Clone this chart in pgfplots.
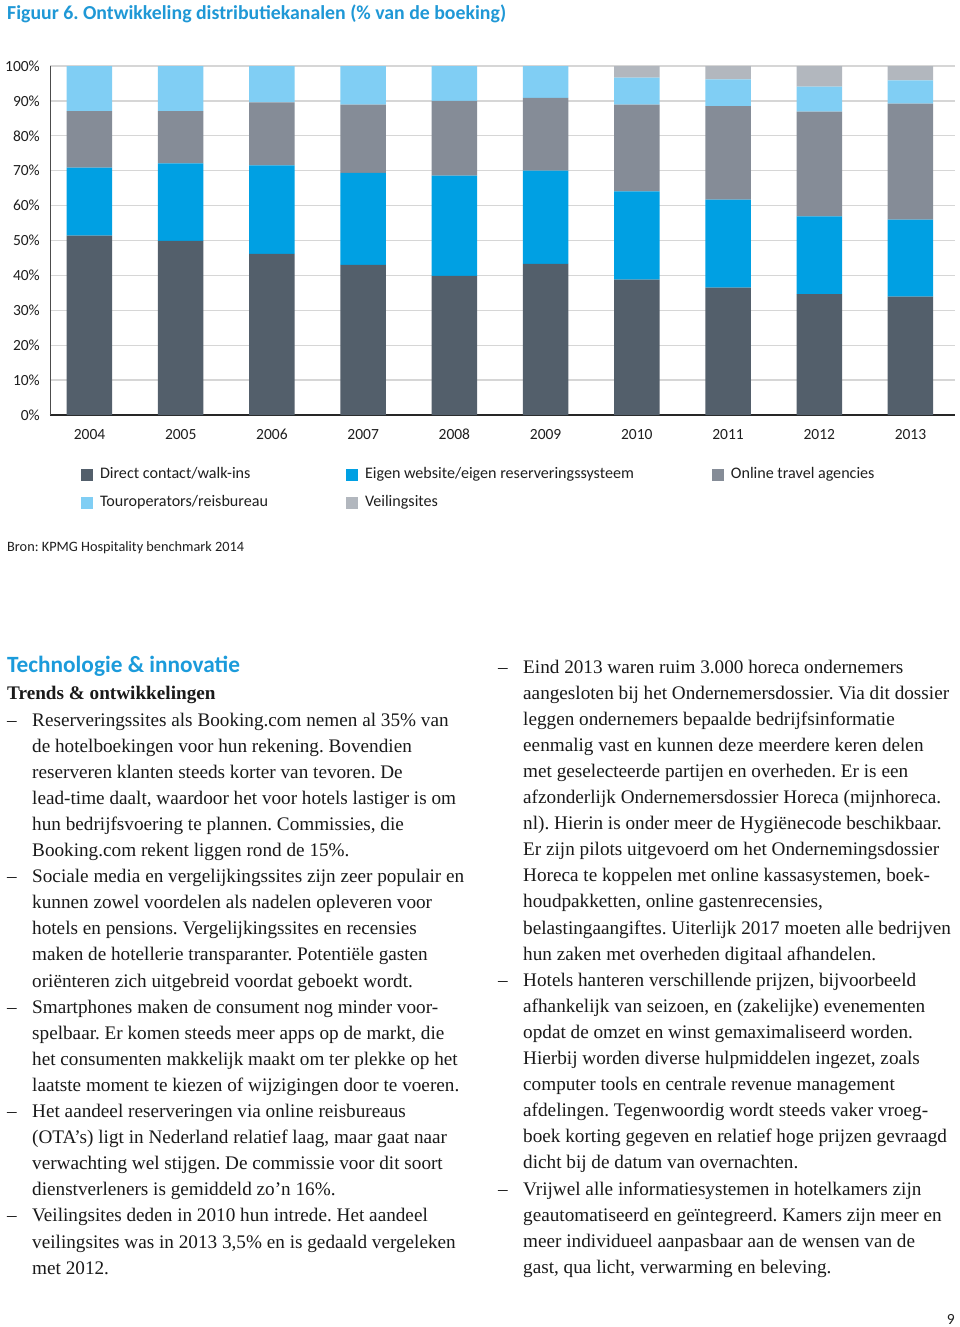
\documentclass[border=0pt]{standalone}
\usepackage{fontspec}
\usepackage{pgfplots}
\pgfplotsset{compat=1.18}
\setmainfont{Liberation Serif}
\newfontfamily\carlito{Carlito}
\newcommand\chartfont{\carlito\fontsize{15.5}{18}\selectfont}
\newcommand\legfont{\carlito\fontsize{16.1}{18}\selectfont}
\newcommand\bodyfont{\fontsize{19.2}{26}\selectfont}
\definecolor{cDirect}{HTML}{535F6B}
\definecolor{cEigen}{HTML}{00A0E3}
\definecolor{cOTA}{HTML}{858C97}
\definecolor{cTour}{HTML}{80CEF4}
\definecolor{cVeil}{HTML}{B2B7BE}
\definecolor{cTitle}{HTML}{1F98D6}
\definecolor{cHead}{HTML}{1B9BDB}
\definecolor{cText}{HTML}{1A1A1A}
\pgfplotsset{sq/.style={legend image code/.code={\fill[##1] (0pt,-6pt) rectangle (12pt,6pt); \path (19pt,0pt);}}}
\newcommand\TL[3]{\node[anchor=base west,inner sep=0pt] at (#1pt,-#2pt) {#3};}
\frenchspacing
\begin{document}
\frenchspacing
\begin{tikzpicture}
\path[use as bounding box, fill=white] (0pt,0pt) rectangle (960pt,-1327pt);
% title
\node[anchor=base west,inner sep=0pt,font=\carlito\bfseries\fontsize{19.8}{24}\selectfont,text=cTitle] at (7pt,-19.5pt) {Figuur 6. Ontwikkeling distributiekanalen (\% van de boeking)};
\begin{axis}[
  at={(50pt,-415pt)}, anchor=south west,
  scale only axis, width=905pt, height=349pt,
  ybar stacked, bar width=45.5pt,
  xmin=-0.433, xmax=9.488, ymin=0, ymax=100,
  xtick={0,1,2,3,4,5,6,7,8,9},
  xticklabels={2004,2005,2006,2007,2008,2009,2010,2011,2012,2013},
  ytick={0,10,20,30,40,50,60,70,80,90,100},
  yticklabels={0\%,10\%,20\%,30\%,40\%,50\%,60\%,70\%,80\%,90\%,100\%},
  axis x line=bottom, axis y line=left,
  x axis line style={draw=black!85, line width=1.6pt, -},
  y axis line style={draw=black!70, line width=0.8pt, -},
  major tick length=0pt,
  ymajorgrids, grid style={draw=black!16, line width=1.3pt},
  tick label style={font=\chartfont, text=black!88},
  yticklabel style={inner sep=0pt, anchor=east, xshift=-10pt},
  xticklabel style={inner sep=0pt, anchor=north, yshift=-14pt},
  legend columns=3,
  legend cell align=left,
  legend style={at={(0.03425,-0.1533)}, anchor=north west, draw=none, fill=none,
    inner sep=0pt, outer sep=0pt, font=\legfont, text=black!88,
    nodes={inner sep=0pt, text height=10pt, text depth=3pt},
    row sep=15pt, column sep=0pt,
    /tikz/every even column/.append style={column sep=78pt}},
]
\addplot[fill=cDirect, draw=none, sq] coordinates {(0,51.4) (1,49.9) (2,46.2) (3,43.0) (4,39.9) (5,43.3) (6,38.8) (7,36.5) (8,34.6) (9,33.9)};
\addplot[fill=cEigen, draw=none, sq] coordinates {(0,19.5) (1,22.2) (2,25.3) (3,26.4) (4,28.7) (5,26.7) (6,25.3) (7,25.2) (8,22.3) (9,22.1)};
\addplot[fill=cOTA, draw=none, sq] coordinates {(0,16.2) (1,15.0) (2,18.1) (3,19.5) (4,21.4) (5,20.9) (6,24.8) (7,26.8) (8,30.0) (9,33.2)};
\addplot[fill=cTour, draw=none, sq] coordinates {(0,12.9) (1,12.9) (2,10.4) (3,11.1) (4,10.0) (5,9.1) (6,7.8) (7,7.7) (8,7.2) (9,6.7)};
\addplot[fill=cVeil, draw=none, sq] coordinates {(0,0) (1,0) (2,0) (3,0) (4,0) (5,0) (6,3.3) (7,3.8) (8,5.9) (9,4.1)};
\legend{Direct contact/walk-ins, Eigen website/eigen reserveringssysteem, Online travel agencies, Touroperators/reisbureau, Veilingsites}
\end{axis}
\node[anchor=base west,inner sep=0pt,font=\carlito\fontsize{14.3}{16}\selectfont,text=black!88] at (7pt,-551pt) {Bron: KPMG Hospitality benchmark 2014};
\node[anchor=base west,inner sep=0pt,font=\carlito\bfseries\fontsize{23.3}{26}\selectfont,text=cHead] at (7pt,-672.7pt) {Technologie \& innovatie};
\node[anchor=base west,inner sep=0pt,font=\bfseries\bodyfont,text=cText] at (7pt,-699pt) {Trends \& ontwikkelingen};
\begin{scope}[font=\bodyfont, text=cText]
% left column
\TL{7}{726}{–}
\TL{32}{726}{Reserveringssites als Booking.com nemen al 35\% van}
\TL{32}{752.1}{de hotelboekingen voor hun rekening. Bovendien}
\TL{32}{778.2}{reserveren klanten steeds korter van tevoren. De}
\TL{32}{804.3}{lead-time daalt, waardoor het voor hotels lastiger is om}
\TL{32}{830.4}{hun bedrijfsvoering te plannen. Commissies, die}
\TL{32}{856.5}{Booking.com rekent liggen rond de 15\%.}
\TL{7}{882.6}{–}
\TL{32}{882.6}{Sociale media en vergelijkingssites zijn zeer populair en}
\TL{32}{908.7}{kunnen zowel voordelen als nadelen opleveren voor}
\TL{32}{934.8}{hotels en pensions. Vergelijkingssites en recensies}
\TL{32}{960.9}{maken de hotellerie transparanter. Potentiële gasten}
\TL{32}{987.0}{oriënteren zich uitgebreid voordat geboekt wordt.}
\TL{7}{1013.1}{–}
\TL{32}{1013.1}{Smartphones maken de consument nog minder voor-}
\TL{32}{1039.2}{spelbaar. Er komen steeds meer apps op de markt, die}
\TL{32}{1065.3}{het consumenten makkelijk maakt om ter plekke op het}
\TL{32}{1091.4}{laatste moment te kiezen of wijzigingen door te voeren.}
\TL{7}{1117.5}{–}
\TL{32}{1117.5}{Het aandeel reserveringen via online reisbureaus}
\TL{32}{1143.6}{(OTA’s) ligt in Nederland relatief laag, maar gaat naar}
\TL{32}{1169.7}{verwachting wel stijgen. De commissie voor dit soort}
\TL{32}{1195.8}{dienstverleners is gemiddeld zo’n 16\%.}
\TL{7}{1221.9}{–}
\TL{32}{1221.9}{Veilingsites deden in 2010 hun intrede. Het aandeel}
\TL{32}{1248.0}{veilingsites was in 2013 3,5\% en is gedaald vergeleken}
\TL{32}{1274.1}{met 2012.}
% right column
\TL{498}{673}{–}
\TL{523}{673}{Eind 2013 waren ruim 3.000 horeca ondernemers}
\TL{523}{699.1}{aangesloten bij het Ondernemersdossier. Via dit dossier}
\TL{523}{725.2}{leggen ondernemers bepaalde bedrijfsinformatie}
\TL{523}{751.3}{eenmalig vast en kunnen deze meerdere keren delen}
\TL{523}{777.4}{met geselecteerde partijen en overheden. Er is een}
\TL{523}{803.5}{afzonderlijk Ondernemersdossier Horeca (mijnhoreca.}
\TL{523}{829.6}{nl). Hierin is onder meer de Hygiënecode beschikbaar.}
\TL{523}{855.7}{Er zijn pilots uitgevoerd om het Ondernemingsdossier}
\TL{523}{881.8}{Horeca te koppelen met online kassasystemen, boek-}
\TL{523}{907.9}{houdpakketten, online gastenrecensies,}
\TL{523}{934.0}{belastingaangiftes. Uiterlijk 2017 moeten alle bedrijven}
\TL{523}{960.1}{hun zaken met overheden digitaal afhandelen.}
\TL{498}{986.2}{–}
\TL{523}{986.2}{Hotels hanteren verschillende prijzen, bijvoorbeeld}
\TL{523}{1012.3}{afhankelijk van seizoen, en (zakelijke) evenementen}
\TL{523}{1038.4}{opdat de omzet en winst gemaximaliseerd worden.}
\TL{523}{1064.5}{Hierbij worden diverse hulpmiddelen ingezet, zoals}
\TL{523}{1090.6}{computer tools en centrale revenue management}
\TL{523}{1116.7}{afdelingen. Tegenwoordig wordt steeds vaker vroeg-}
\TL{523}{1142.8}{boek korting gegeven en relatief hoge prijzen gevraagd}
\TL{523}{1168.9}{dicht bij de datum van overnachten.}
\TL{498}{1195.0}{–}
\TL{523}{1195.0}{Vrijwel alle informatiesystemen in hotelkamers zijn}
\TL{523}{1221.1}{geautomatiseerd en geïntegreerd. Kamers zijn meer en}
\TL{523}{1247.2}{meer individueel aanpasbaar aan de wensen van de}
\TL{523}{1273.3}{gast, qua licht, verwarming en beleving.}
\end{scope}
\node[anchor=base east,inner sep=0pt,font=\carlito\fontsize{15.5}{18}\selectfont,text=black!88] at (955pt,-1324pt) {9};
\end{tikzpicture}
\end{document}
